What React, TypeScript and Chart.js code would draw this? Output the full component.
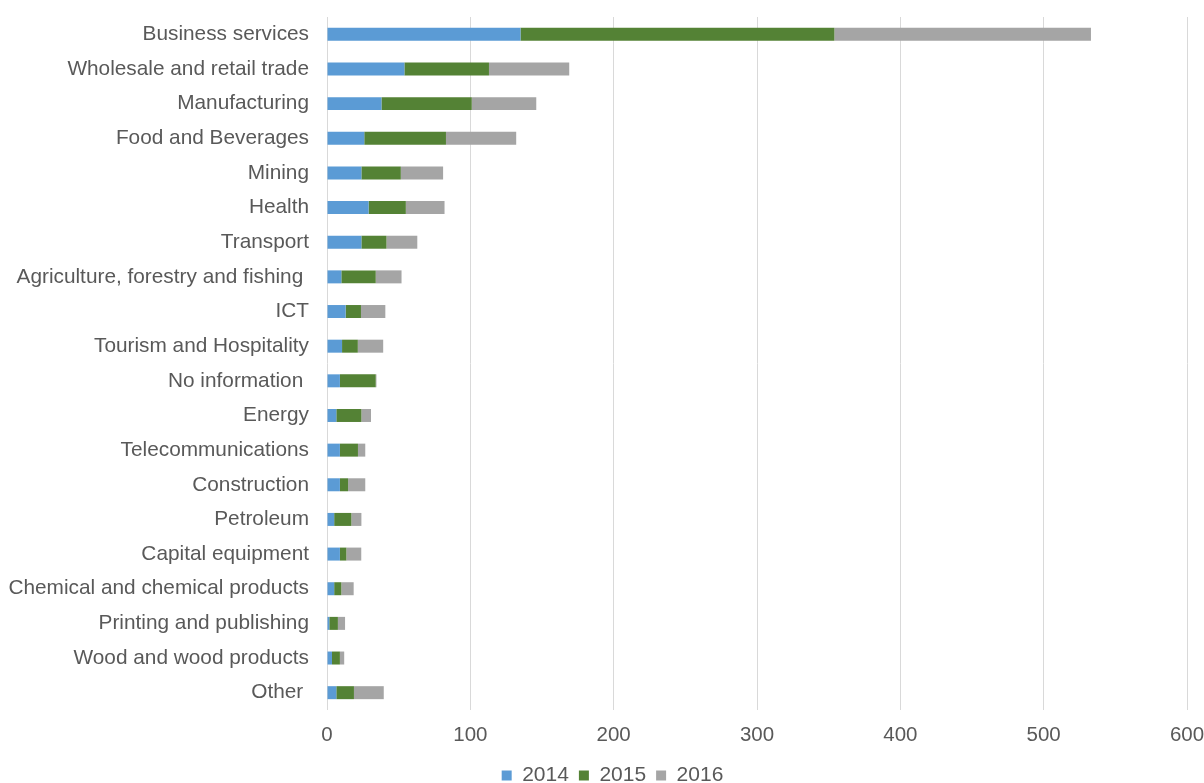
import React, { useEffect, useRef } from "react";
import { Chart, registerables } from "chart.js";

Chart.register(...registerables);

const categories = [
  "Business services",
  "Wholesale and retail trade",
  "Manufacturing",
  "Food and Beverages",
  "Mining",
  "Health",
  "Transport",
  "Agriculture, forestry and fishing ",
  "ICT",
  "Tourism and Hospitality",
  "No information ",
  "Energy",
  "Telecommunications",
  "Construction",
  "Petroleum",
  "Capital equipment",
  "Chemical and chemical products",
  "Printing and publishing",
  "Wood and wood products",
  "Other ",
];

const values2014 = [135, 54, 38, 26, 24, 29, 24, 10, 13, 10.5, 9, 6.5, 9, 9, 5, 9, 5, 1.6, 3.5, 6.5];
const values2015 = [219, 59, 63, 57, 27.5, 26, 17.5, 24, 10.7, 11, 25, 17.5, 12.6, 5.7, 12, 4.5, 5, 6, 5.5, 12.3];
const values2016 = [179, 56, 45, 49, 29.5, 27, 21.5, 18, 17, 17.7, 0.5, 6.7, 5.1, 12, 7, 10.4, 8.6, 5, 3, 20.8];

const seriesLabels = ["2014", "2015", "2016"];
const seriesColors = ["#5B9BD5", "#548235", "#A5A5A5"];

const FONT = "'Liberation Sans', Arial, sans-serif";
const TEXT = "#595959";

const layoutFix = {
  id: "layoutFix",
  afterLayout(chart: any) {
    const x = chart.scales.x;
    if (x) x.bottom += 25;
    if (chart.legend) {
      chart.legend.left += 19;
      chart.legend.right += 19;
    }
  },
};

export default function App() {
  const canvasRef = useRef<HTMLCanvasElement | null>(null);

  useEffect(() => {
    if (!canvasRef.current) return;
    const allValues = [values2014, values2015, values2016];
    const chart = new Chart(canvasRef.current, {
      type: "bar",
      data: {
        labels: categories,
        datasets: allValues.map((vals, i) => ({
          label: seriesLabels[i],
          data: vals,
          backgroundColor: seriesColors[i],
          borderWidth: 0,
          categoryPercentage: 1,
          barPercentage: 0.375,
        })),
      },
      plugins: [layoutFix],
      options: {
        indexAxis: "y",
        animation: false,
        responsive: false,
        maintainAspectRatio: false,
        layout: { padding: { top: 17, right: 17, left: 0, bottom: -13 } },
        plugins: {
          tooltip: { enabled: false },
          legend: {
            position: "bottom",
            labels: {
              boxWidth: 10,
              boxHeight: 10,
              padding: 10,
              color: TEXT,
              font: { family: FONT, size: 21 },
            },
          },
        },
        scales: {
          x: {
            stacked: true,
            min: 0,
            max: 600,
            ticks: {
              stepSize: 100,
              color: TEXT,
              font: { family: FONT, size: 20.5 },
              padding: 13,
              maxRotation: 0,
            },
            grid: { color: "#D9D9D9", lineWidth: 1, drawTicks: false },
            border: { display: false },
            afterFit: (scale: any) => {
              scale.height = 45;
              scale.paddingLeft = 0;
              scale.paddingRight = 0;
            },
          },
          y: {
            stacked: true,
            ticks: {
              color: TEXT,
              font: { family: FONT, size: 20.8 },
              padding: 18,
              autoSkip: false,
            },
            grid: { display: false, drawTicks: false },
            border: { display: false },
            afterFit: (scale: any) => {
              scale.width = 327;
              scale.paddingTop = 0;
              scale.paddingBottom = 0;
            },
          },
        },
      },
    });
    return () => chart.destroy();
  }, []);

  return (
    <div style={{ position: "fixed", left: 0, top: 0, width: 1204, height: 783, background: "#fff" }}>
      <canvas ref={canvasRef} width={1204} height={783} style={{ width: 1204, height: 783, display: "block" }} />
    </div>
  );
}
